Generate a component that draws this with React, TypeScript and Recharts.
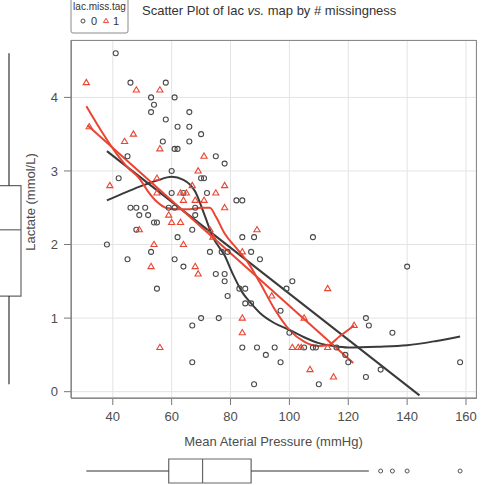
import React from 'react';
import {
  ComposedChart,
  Scatter,
  Line,
  XAxis,
  YAxis,
  CartesianGrid,
  ReferenceArea,
  ReferenceLine,
} from 'recharts';

// lac.miss.tag = 0 (open circles)
const tag0Map = [41, 46, 58, 53, 61, 54, 53, 66, 58, 62, 66, 70, 57, 66, 61, 62, 45, 75, 78, 60, 42, 70, 71, 60, 64, 72, 82, 84, 46, 48, 51, 59, 61, 68, 49, 52, 68, 54, 55, 48, 67, 62, 84, 88, 108, 38, 53, 73, 77, 79, 87, 45, 61, 90, 64, 140, 75, 78, 78, 101, 55, 83, 85, 99, 79, 85, 87, 97, 70, 76, 126, 67, 127, 100, 135, 84, 89, 95, 105, 108, 109, 116, 92, 119, 67, 97, 120, 158, 131, 126, 88, 110];
const tag0Lac = [4.6, 4.2, 4.2, 4.0, 4.0, 3.9, 3.8, 3.8, 3.7, 3.6, 3.6, 3.5, 3.4, 3.4, 3.3, 3.3, 3.2, 3.2, 3.1, 3.0, 2.9, 2.9, 2.9, 2.7, 2.7, 2.7, 2.6, 2.6, 2.5, 2.5, 2.5, 2.5, 2.5, 2.5, 2.4, 2.4, 2.4, 2.3, 2.3, 2.2, 2.2, 2.1, 2.1, 2.1, 2.1, 2.0, 1.9, 1.9, 1.9, 1.9, 1.9, 1.8, 1.8, 1.8, 1.7, 1.7, 1.6, 1.6, 1.5, 1.5, 1.4, 1.4, 1.4, 1.4, 1.3, 1.2, 1.2, 1.1, 1.0, 1.0, 1.0, 0.9, 0.9, 0.8, 0.8, 0.6, 0.6, 0.6, 0.6, 0.6, 0.6, 0.6, 0.5, 0.5, 0.4, 0.4, 0.4, 0.4, 0.3, 0.2, 0.1, 0.1];

// lac.miss.tag = 1 (open triangles)
const tag1Map = [31, 48, 56, 32, 47, 44, 56, 71, 69, 55, 39, 67, 78, 55, 63, 65, 75, 64, 68, 71, 78, 59, 60, 63, 49, 73, 89, 74, 54, 64, 84, 53, 68, 69, 94, 113, 84, 105, 122, 84, 56, 101, 103, 104, 113, 107, 115];
const tag1Lac = [4.2, 4.1, 4.1, 3.6, 3.5, 3.4, 3.3, 3.2, 3.0, 2.9, 2.8, 2.8, 2.8, 2.7, 2.7, 2.7, 2.7, 2.6, 2.6, 2.6, 2.5, 2.4, 2.3, 2.3, 2.2, 2.2, 2.2, 2.1, 2.0, 2.0, 1.9, 1.7, 1.7, 1.6, 1.3, 1.4, 1.0, 1.0, 0.9, 0.8, 0.6, 0.6, 0.6, 0.6, 0.6, 0.3, 0.2];

// fitted lines
const lm0Map = [38, 144.2];
const lm0Lac = [3.27, -0.05];
const lo0Map = [38, 45, 50, 55, 60, 64, 68, 71, 74, 78, 81, 84, 87, 90, 95, 100, 105, 110, 115, 120, 130, 140, 150, 158];
const lo0Lac = [2.6, 2.72, 2.8, 2.87, 2.92, 2.88, 2.72, 2.42, 2.1, 1.85, 1.58, 1.35, 1.2, 1.07, 0.93, 0.84, 0.74, 0.66, 0.62, 0.6, 0.61, 0.63, 0.69, 0.75];
const lm1Map = [31.4, 121.7];
const lm1Lac = [3.62, 0.39];
const lo1Map = [31, 36, 41, 45, 49, 52, 55, 58, 62, 66, 70, 73, 75, 78, 82, 86, 90, 95, 100, 105, 110, 113, 117, 122];
const lo1Lac = [3.88, 3.55, 3.25, 3.05, 2.9, 2.72, 2.58, 2.5, 2.48, 2.48, 2.5, 2.5, 2.38, 2.15, 1.95, 1.75, 1.48, 1.12, 0.84, 0.68, 0.62, 0.63, 0.75, 0.9];

// marginal boxplots: [lower whisker, Q1, median, Q3, upper whisker]
const lacBox = [0.1, 1.3, 2.2, 2.8, 4.6];
const mapBox = [31, 59, 70.5, 87, 127];
const mapOutliers = [131, 135, 140, 158];

const xTicks = [40, 60, 80, 100, 120, 140, 160];
const yTicks = [0, 1, 2, 3, 4];
const xDomain = [25.8, 163.4];
const yDomain = [-0.086, 4.78];

const zip = (xs: number[], ys: number[]) => xs.map((x, i) => ({ x, y: ys[i] }));

const tag0 = zip(tag0Map, tag0Lac);
const tag1 = zip(tag1Map, tag1Lac);
const lm0 = zip(lm0Map, lm0Lac);
const lo0 = zip(lo0Map, lo0Lac);
const lm1 = zip(lm1Map, lm1Lac);
const lo1 = zip(lo1Map, lo1Lac);
const outliers = mapOutliers.map((x) => ({ x, y: 0.5 }));
const lacEnds = [lacBox[0], lacBox[4]].map((y) => ({ x: 0.5, y }));

const GREY = '#4a4a4a';
const RED = '#ea4533';
const FONT = '"Liberation Sans", Arial, Helvetica, sans-serif';

const CircleDot = (props: any) => (
  <circle cx={props.cx} cy={props.cy} r={2.5} fill="none" stroke={GREY} strokeWidth={1.1} />
);
const TriangleDot = (props: any) => {
  const { cx, cy } = props;
  return (
    <path
      d={`M${cx},${cy - 3.3}L${cx + 3.1},${cy + 2}L${cx - 3.1},${cy + 2}Z`}
      fill="none"
      stroke={RED}
      strokeWidth={1.1}
    />
  );
};
const SmallCircle = (props: any) => (
  <circle cx={props.cx} cy={props.cy} r={2} fill="none" stroke="#555" strokeWidth={1} />
);
const NoDot = () => <g />;

export default function App() {
  return (
    <div style={{ position: 'absolute', left: 0, top: 0, width: 483, height: 485, background: '#fff', fontFamily: FONT }}>
      {/* main scatter */}
      <div style={{ position: 'absolute', left: 0, top: 0 }}>
        <ComposedChart width={483} height={485} margin={{ top: 40, right: 7, bottom: 0, left: 0 }}>
          <CartesianGrid stroke="#e3e3e3" strokeWidth={1} />
          <XAxis
            type="number"
            dataKey="x"
            domain={xDomain}
            ticks={xTicks}
            allowDataOverflow
            height={87}
            stroke="#777"
            tickSize={7}
            tickMargin={7}
            tick={{ fill: '#4d4d4d', fontSize: 13, fontFamily: FONT }}
            label={{ value: 'Mean Aterial Pressure (mmHg)', position: 'insideTop', offset: 39, fill: '#4d4d4d', fontSize: 13, fontFamily: FONT }}
          />
          <YAxis
            type="number"
            dataKey="y"
            domain={yDomain}
            ticks={yTicks}
            allowDataOverflow
            width={71}
            stroke="#777"
            tickSize={7}
            tickMargin={6}
            tick={{ fill: '#4d4d4d', fontSize: 13, fontFamily: FONT }}
          />
          <Scatter data={tag0} dataKey="y" shape={CircleDot} isAnimationActive={false} />
          <Scatter data={tag1} dataKey="y" shape={TriangleDot} isAnimationActive={false} />
          <Line data={lo0} dataKey="y" type="monotone" stroke="#3a3a3a" strokeWidth={2} dot={false} isAnimationActive={false} />
          <Line data={lm0} dataKey="y" type="linear" stroke="#3a3a3a" strokeWidth={2} dot={false} isAnimationActive={false} />
          <Line data={lo1} dataKey="y" type="monotone" stroke={RED} strokeWidth={2} dot={false} isAnimationActive={false} />
          <Line data={lm1} dataKey="y" type="linear" stroke={RED} strokeWidth={2} dot={false} isAnimationActive={false} />
        </ComposedChart>
      </div>

      {/* panel frame */}
      <div style={{ position: 'absolute', left: 71, top: 40, width: 404, height: 357, border: '1px solid #8a8a8a', pointerEvents: 'none' }} />

      {/* left marginal boxplot of lactate */}
      <div style={{ position: 'absolute', left: -15, top: 0 }}>
        <ComposedChart width={48} height={485} margin={{ top: 40, right: 0, bottom: 87, left: 0 }}>
          <XAxis type="number" dataKey="x" domain={[0, 1]} hide />
          <YAxis type="number" dataKey="y" domain={yDomain} hide allowDataOverflow />
          <Scatter data={lacEnds} dataKey="y" shape={NoDot} isAnimationActive={false} />
          <ReferenceLine segment={[{ x: 0.5, y: lacBox[0] }, { x: 0.5, y: lacBox[1] }]} stroke="#333" strokeWidth={1.2} />
          <ReferenceLine segment={[{ x: 0.5, y: lacBox[3] }, { x: 0.5, y: lacBox[4] }]} stroke="#333" strokeWidth={1.2} />
          <ReferenceArea x1={0.25} x2={0.75} y1={lacBox[1]} y2={lacBox[3]} fill="#fff" fillOpacity={1} stroke="#666" strokeWidth={1.2} />
          <ReferenceLine segment={[{ x: 0.25, y: lacBox[2] }, { x: 0.75, y: lacBox[2] }]} stroke="#666" strokeWidth={1.2} />
        </ComposedChart>
      </div>

      {/* bottom marginal boxplot of MAP */}
      <div style={{ position: 'absolute', left: 0, top: 455 }}>
        <ComposedChart width={483} height={32} margin={{ top: 0, right: 7, bottom: 0, left: 71 }}>
          <XAxis type="number" dataKey="x" domain={xDomain} hide allowDataOverflow />
          <YAxis type="number" dataKey="y" domain={[0, 1]} hide />
          <ReferenceLine segment={[{ x: mapBox[0], y: 0.5 }, { x: mapBox[1], y: 0.5 }]} stroke="#333" strokeWidth={1.2} />
          <ReferenceLine segment={[{ x: mapBox[3], y: 0.5 }, { x: mapBox[4], y: 0.5 }]} stroke="#333" strokeWidth={1.2} />
          <ReferenceArea x1={mapBox[1]} x2={mapBox[3]} y1={0.125} y2={0.875} fill="#fff" fillOpacity={1} stroke="#666" strokeWidth={1.2} />
          <ReferenceLine segment={[{ x: mapBox[2], y: 0.125 }, { x: mapBox[2], y: 0.875 }]} stroke="#666" strokeWidth={1.2} />
          <Scatter data={outliers} dataKey="y" shape={SmallCircle} isAnimationActive={false} />
        </ComposedChart>
      </div>

      {/* title, legend, y label */}
      <svg width={483} height={485} style={{ position: 'absolute', left: 0, top: 0, pointerEvents: 'none' }}>
        <text x={142} y={15} fontSize={13} fill="#333" fontFamily={FONT}>
          Scatter Plot of lac <tspan fontStyle="italic">vs.</tspan> map by # missingness
        </text>
        <rect x={71} y={-3} width={57} height={36} rx={2} fill="#fff" stroke="#8a8a8a" strokeWidth={1} />
        <text x={99.5} y={10} fontSize={10} fill="#333" textAnchor="middle" fontFamily={FONT}>lac.miss.tag</text>
        <circle cx={83} cy={21} r={2} fill="none" stroke={GREY} strokeWidth={1} />
        <text x={94} y={25} fontSize={11} fill="#333" textAnchor="middle" fontFamily={FONT}>0</text>
        <path d="M106,18.3L108.6,22.6L103.4,22.6Z" fill="none" stroke={RED} strokeWidth={1} />
        <text x={116} y={25} fontSize={11} fill="#333" textAnchor="middle" fontFamily={FONT}>1</text>
        <text
          x={35}
          y={202}
          fontSize={13}
          fill="#4d4d4d"
          textAnchor="middle"
          fontFamily={FONT}
          transform="rotate(-90 35 202)"
        >
          Lactate (mmol/L)
        </text>
      </svg>
    </div>
  );
}
